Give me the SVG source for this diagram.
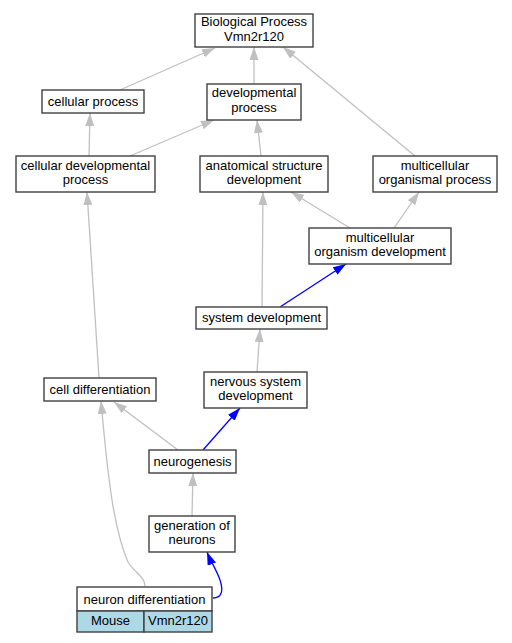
<svg xmlns="http://www.w3.org/2000/svg" width="512" height="643" viewBox="0 0 512 643">
<defs>
<style>
.n rect{fill:#fff;stroke:#404040;stroke-width:1.4}
.n rect.b{fill:#add8e6}
text{font-family:"Liberation Sans",Arial,sans-serif;font-size:13px;fill:#000;text-anchor:middle}
.e path{fill:none;stroke:#c0c0c0;stroke-width:1.3}
.e path.bl{stroke:#0000ff}
</style>
<marker id="ag" markerUnits="userSpaceOnUse" markerWidth="13" markerHeight="9" refX="13" refY="4.5" orient="auto"><path d="M0,0 L13,4.5 L0,9 z" fill="#c0c0c0"/></marker>
<marker id="ab" markerUnits="userSpaceOnUse" markerWidth="13" markerHeight="9" refX="13" refY="4.5" orient="auto"><path d="M0,0 L13,4.5 L0,9 z" fill="#0000ff"/></marker>
</defs>
<rect width="512" height="643" fill="#fff"/>
<g class="e" id="edges">
<path d="M120,90 L215,48" marker-end="url(#ag)"/>
<path d="M254,84 L254,47" marker-end="url(#ag)"/>
<path d="M415,156 L283,47" marker-end="url(#ag)"/>
<path d="M89,156 L90,113" marker-end="url(#ag)"/>
<path d="M130,156 L214,120" marker-end="url(#ag)"/>
<path d="M261,156 L257,120" marker-end="url(#ag)"/>
<path d="M350,228 L291,192" marker-end="url(#ag)"/>
<path d="M394,228 L419,192" marker-end="url(#ag)"/>
<path d="M262,307 L263,192" marker-end="url(#ag)"/>
<path class="bl" d="M280,307 L346,264" marker-end="url(#ab)"/>
<path d="M257,372 L260,329" marker-end="url(#ag)"/>
<path d="M99,378 L87,192" marker-end="url(#ag)"/>
<path d="M178,450 L114,402" marker-end="url(#ag)"/>
<path class="bl" d="M203,450 L240,408" marker-end="url(#ab)"/>
<path d="M192,516 L193,473" marker-end="url(#ag)"/>
<path d="M145,586 C145,577 134,572 128,562 C114,530 108,480 101,401" marker-end="url(#ag)"/>
<path class="bl" d="M213,598 C221,598 224,592 220,580 C217,571 211,562 207,552" marker-end="url(#ab)"/>
</g>
<g class="n" id="bio"><rect x="195" y="14" width="118" height="33"/><text x="254" y="26">Biological Process<tspan x="254" dy="14.6">Vmn2r120</tspan></text></g>
<g class="n" id="cellular_process"><rect x="42" y="90" width="102" height="23"/><text x="93" y="105.5">cellular process</text></g>
<g class="n" id="developmental_process"><rect x="207" y="84" width="94" height="36"/><text x="254" y="97">developmental<tspan x="254" dy="14.6">process</tspan></text></g>
<g class="n" id="cellular_developmental_process"><rect x="16" y="156" width="139" height="36"/><text x="85.5" y="169.5">cellular developmental<tspan x="85.5" dy="14.6">process</tspan></text></g>
<g class="n" id="anatomical_structure_development"><rect x="200" y="156" width="128" height="36"/><text x="264" y="169.5">anatomical structure<tspan x="264" dy="14.6">development</tspan></text></g>
<g class="n" id="multicellular_organismal_process"><rect x="373" y="156" width="124" height="36"/><text x="435" y="169.5">multicellular<tspan x="435" dy="14.6">organismal process</tspan></text></g>
<g class="n" id="multicellular_organism_development"><rect x="309" y="228" width="142" height="36"/><text x="380" y="241.5">multicellular<tspan x="380" dy="14.6">organism development</tspan></text></g>
<g class="n" id="system_development"><rect x="196" y="307" width="131" height="22"/><text x="261.5" y="322">system development</text></g>
<g class="n" id="nervous_system_development"><rect x="204" y="372" width="103" height="36"/><text x="255.5" y="385.5">nervous system<tspan x="255.5" dy="14.6">development</tspan></text></g>
<g class="n" id="cell_differentiation"><rect x="44" y="378" width="112" height="23"/><text x="100" y="393.5">cell differentiation</text></g>
<g class="n" id="neurogenesis"><rect x="149" y="450" width="87" height="23"/><text x="192.5" y="465.5">neurogenesis</text></g>
<g class="n" id="generation_of_neurons"><rect x="149" y="516" width="86" height="36"/><text x="192" y="529.5">generation of<tspan x="192" dy="14.6">neurons</tspan></text></g>
<g class="n" id="neuron_differentiation"><rect x="77" y="587" width="135" height="24"/><rect class="b" x="77" y="611" width="67" height="21"/><rect class="b" x="144" y="611" width="68" height="21"/><text x="144.5" y="603.5">neuron differentiation</text><text x="110.5" y="625">Mouse</text><text x="178" y="625">Vmn2r120</text></g>
</svg>
